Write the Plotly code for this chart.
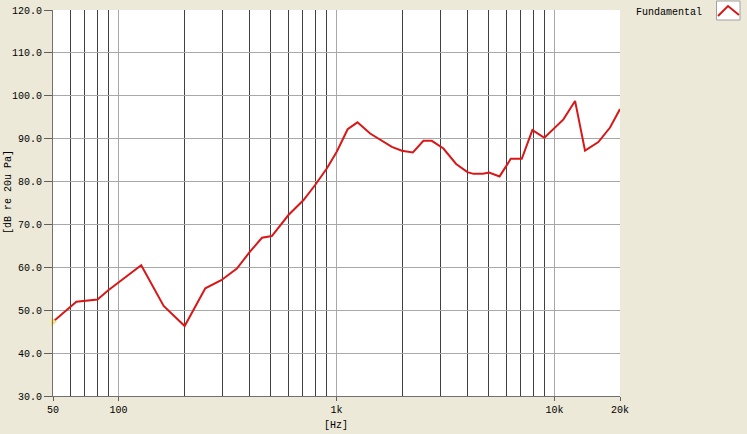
import plotly.graph_objects as go

freq_hz = [50, 64, 80, 90, 127, 161, 201, 250, 296, 349, 400, 455, 505, 602, 706, 798,
           904, 1004, 1125, 1248, 1427, 1795, 1995, 2241, 2506, 2738, 3095, 3540, 3989,
           4250, 4693, 5016, 5604, 6308, 7085, 7925, 8995, 9830, 11000, 12440, 13820,
           15910, 18000, 20000]
level_db = [47.3, 52.0, 52.5, 54.7, 60.5, 51.0, 46.3, 55.1, 57.0, 59.7, 63.6, 66.9, 67.3,
            72.2, 75.7, 79.2, 83.1, 87.0, 92.2, 93.8, 91.2, 88.1, 87.2, 86.8, 89.5, 89.5,
            87.7, 84.1, 82.2, 81.8, 81.8, 82.1, 81.2, 85.3, 85.3, 92.0, 90.2, 92.0, 94.5,
            98.8, 87.2, 89.2, 92.6, 96.9]
x_tick_vals = [50, 100, 1000, 10000, 20000]
x_tick_text = ["50", "100", "1k", "10k", "20k"]
x_dark_grid = [60, 70, 80, 90, 200, 300, 400, 500, 600, 700, 800, 900,
               2000, 3000, 4000, 5000, 6000, 7000, 8000, 9000]
y_ticks = [30, 40, 50, 60, 70, 80, 90, 100, 110, 120]
series_name = "Fundamental"

FONT = "Liberation Mono"
L, R, T, B = 53, 620, 10, 396
W, H = 747, 434
pw, ph = R - L, B - T

def px(x):
    return (x - L) / pw

def py(y):
    return (B - y) / ph

fig = go.Figure()
fig.add_trace(go.Scatter(
    x=freq_hz, y=level_db, mode="lines", name=series_name,
    line=dict(color="#D81818", width=2), showlegend=False))
fig.add_trace(go.Scatter(
    x=[freq_hz[0]], y=[level_db[0]], mode="markers", showlegend=False,
    marker=dict(symbol="triangle-right", size=8, color="#F2E27A"),
    cliponaxis=False, hoverinfo="skip"))

fig.update_layout(
    width=W, height=H,
    margin=dict(l=L, r=W - R, t=T, b=H - B, autoexpand=False),
    paper_bgcolor="#ECE9D8", plot_bgcolor="#FFFFFF",
    font=dict(family=FONT, size=10, color="#000000"),
    showlegend=False,
)
fig.update_xaxes(
    type="log", range=[1.69897, 4.30103],
    tickmode="array", tickvals=x_tick_vals, ticktext=x_tick_text,
    ticks="outside", ticklen=4, tickcolor="#606060",
    showline=True, linecolor="#707070", linewidth=1,
    showgrid=True, gridcolor="#A8A8A8", gridwidth=1,
    minor=dict(tickmode="array", tickvals=x_dark_grid, showgrid=True,
               gridcolor="#404040", gridwidth=1, ticks=""),
    zeroline=False, tickfont=dict(family=FONT, size=10), automargin=False,
)
fig.update_yaxes(
    range=[30, 120], tickmode="array", tickvals=y_ticks,
    ticktext=[f"{v:.1f}" for v in y_ticks],
    ticks="outside", ticklen=8, tickcolor="#606060",
    showline=True, linecolor="#707070", linewidth=1,
    showgrid=True, gridcolor="#A8A8A8", gridwidth=1,
    zeroline=False, tickfont=dict(family=FONT, size=10), automargin=False,
)

fig.add_annotation(text="[dB re 20u Pa]", textangle=-90, xref="paper", yref="paper",
                   x=px(8), y=py(192), xanchor="center", yanchor="middle",
                   showarrow=False, font=dict(family=FONT, size=10))
fig.add_annotation(text="[Hz]", xref="paper", yref="paper",
                   x=px(336), y=py(425), xanchor="center", yanchor="middle",
                   showarrow=False, font=dict(family=FONT, size=10))

# legend
fig.add_annotation(text=series_name, xref="paper", yref="paper",
                   x=px(704), y=py(12), xanchor="right", yanchor="middle",
                   showarrow=False, font=dict(family=FONT, size=10))
fig.add_shape(type="rect", xref="paper", yref="paper",
              x0=px(716.5), x1=px(740), y0=py(1), y1=py(20),
              line=dict(color="#A0A0A0", width=1), fillcolor="#FFFFFF")
fig.add_shape(type="path", xref="paper", yref="paper",
              path=f"M {px(718)} {py(16)} L {px(728)} {py(6)} L {px(739)} {py(15)}",
              line=dict(color="#D81818", width=2))

fig.write_html("out.html", config={"displayModeBar": False},
               post_script="document.body.style.margin='0';document.body.style.overflow='hidden';")
